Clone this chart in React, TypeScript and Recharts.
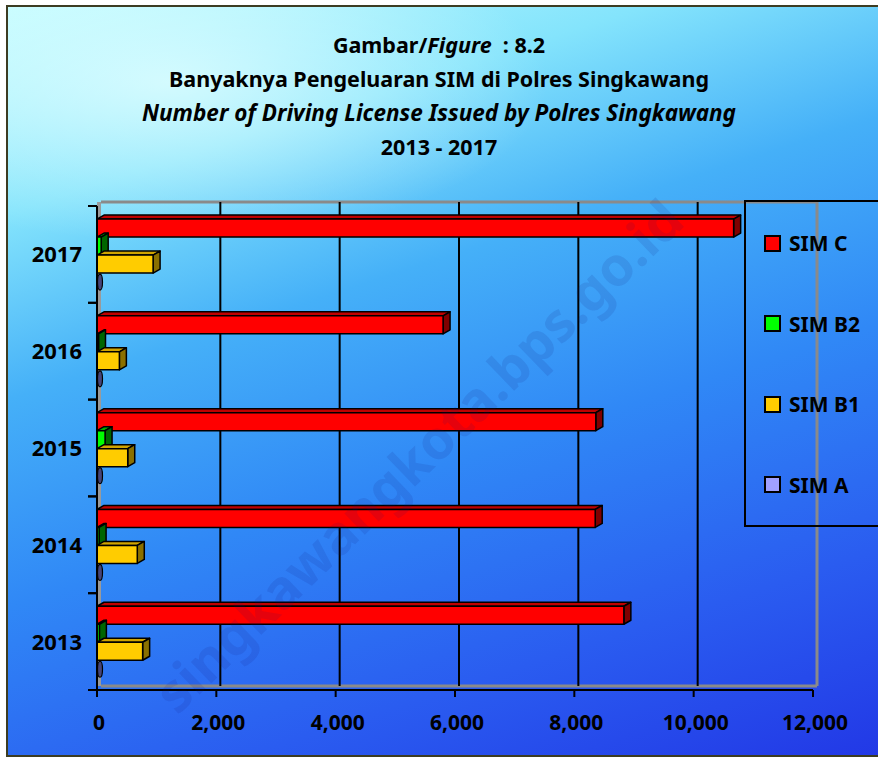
import { BarChart, Bar, XAxis, YAxis, CartesianGrid } from "recharts"

const years = ["2013", "2014", "2015", "2016", "2017"]
const simC = [8830, 8350, 8360, 5800, 10670]
const simB2 = [40, 35, 135, 25, 70]
const simB1 = [765, 675, 515, 375, 940]
const simA = [0, 0, 0, 0, 0]
const xTicks = [0, 2000, 4000, 6000, 8000, 10000, 12000]

const seriesNames = ["SIM C", "SIM B2", "SIM B1", "SIM A"]
const seriesKeys = ["simC", "simB2", "simB1", "simA"]
const seriesColors = ["#ff0000", "#00ff00", "#ffcc00", "#a0a0ff"]

const shades: Record<string, { top: string; side: string }> = {
  "#ff0000": { top: "#c00000", side: "#800000" },
  "#00ff00": { top: "#00b000", side: "#006600" },
  "#ffcc00": { top: "#d0a400", side: "#8a7000" },
  "#a0a0ff": { top: "#505088", side: "#45457a" },
}

const data = years.map((year, i) => ({
  year,
  simC: simC[i],
  simB2: simB2[i],
  simB1: simB1[i],
  simA: simA[i],
}))

const W = 878
const H = 758
const PLOT = { left: 97, top: 206, right: 813, bottom: 690 }
const DX = 7
const DY = 4
const FONT = "'Noto Sans', sans-serif"

function Bar3D(props: any) {
  const { x, y, width, height, fill } = props
  const w = Math.max(0, width || 0)
  const s = shades[fill] || { top: fill, side: fill }
  if (w === 0) {
    // zero-length bar: only its end cap shows
    return (
      <ellipse
        cx={x + 3}
        cy={y + height / 2}
        rx={2.5}
        ry={height / 2 - 1}
        fill={s.side}
        stroke="#000"
        strokeWidth={1.2}
      />
    )
  }
  return (
    <g stroke="#000" strokeWidth={1.5} strokeLinejoin="round">
      <polygon
        points={`${x},${y} ${x + DX},${y - DY} ${x + w + DX},${y - DY} ${x + w},${y}`}
        fill={s.top}
      />
      <polygon
        points={`${x + w},${y} ${x + w + DX},${y - DY} ${x + w + DX},${y + height - DY} ${x + w},${y + height}`}
        fill={s.side}
      />
      <rect x={x} y={y} width={w} height={height} fill={fill} />
    </g>
  )
}

function YTick(props: any) {
  const { x, y, payload } = props
  const half = (PLOT.bottom - PLOT.top) / years.length / 2
  return (
    <g>
      <line x1={PLOT.left - 9} x2={PLOT.left} y1={y - half} y2={y - half} stroke="#000" strokeWidth={2} />
      <line x1={PLOT.left - 9} x2={PLOT.left} y1={y + half} y2={y + half} stroke="#000" strokeWidth={2} />
      <text x={x - 7} y={y + 8} textAnchor="end" fontFamily={FONT} fontWeight={700} fontSize={22} fill="#000">
        {payload.value}
      </text>
    </g>
  )
}

function XTick(props: any) {
  const { x, y, payload } = props
  return (
    <text x={x + 2} y={y + 31} textAnchor="middle" fontFamily={FONT} fontWeight={700} fontSize={21} fill="#000">
      {Number(payload.value).toLocaleString("en-US")}
    </text>
  )
}

function GridLine(props: any) {
  const { x1, y1, y2 } = props
  const x = x1 + 4
  if (Math.abs(x1 - PLOT.left) < 1) {
    return (
      <g>
        <rect x={PLOT.left} y={y1 - DY} width={4} height={y2 - y1} fill="#9a9a9a" />
        <line x1={x} x2={PLOT.right + 4} y1={y1 - DY} y2={y1 - DY} stroke="#8a8a8a" strokeWidth={3} />
        <line x1={x} x2={PLOT.right + 4} y1={y2 - DY} y2={y2 - DY} stroke="#8a8a8a" strokeWidth={3} />
      </g>
    )
  }
  if (Math.abs(x1 - PLOT.right) < 1) {
    return <line x1={x} x2={x} y1={y1 - DY} y2={y2 - DY} stroke="#8a8a8a" strokeWidth={3} />
  }
  return <line x1={x} x2={x} y1={y1 - DY} y2={y2 - DY} stroke="#000" strokeWidth={2} />
}

const titleStyle: React.CSSProperties = {
  position: "absolute",
  left: 0,
  width: W,
  textAlign: "center",
  fontFamily: FONT,
  fontWeight: 700,
  fontSize: 21.5,
  color: "#000",
  lineHeight: "26px",
  whiteSpace: "nowrap",
}

export default function App() {
  return (
    <div style={{ position: "absolute", left: 0, top: 0, width: W, height: H, overflow: "hidden", background: "#fff" }}>
      <div
        style={{
          position: "absolute",
          left: 6,
          top: 5,
          width: W,
          height: 748,
          border: "2px solid #3c3c22",
          background:
            "radial-gradient(ellipse 380px 160px at 160px 75px, rgba(230,255,255,0.75), rgba(230,255,255,0) 100%), linear-gradient(162deg, #c0fcff 0%, #84e4fc 20%, #45b0f8 38%, #3088f6 58%, #2a5cf0 80%, #2238e6 100%)",
        }}
      />
      <div style={{ ...titleStyle, top: 32 }}>
        Gambar/<i>Figure</i>&nbsp; : 8.2
      </div>
      <div style={{ ...titleStyle, top: 66 }}>Banyaknya Pengeluaran SIM di Polres Singkawang</div>
      <div style={{ ...titleStyle, top: 100, fontStyle: "italic", fontSize: 22.5 }}>
        Number of Driving License Issued by Polres Singkawang
      </div>
      <div style={{ ...titleStyle, top: 134 }}>2013 - 2017</div>

      <div style={{ position: "absolute", left: 0, top: 0 }}>
        <BarChart
          width={W}
          height={H}
          data={data}
          layout="vertical"
          margin={{ top: PLOT.top, right: W - PLOT.right, bottom: 0, left: 0 }}
          barCategoryGap="13.5%"
          barGap={0}
        >
          <CartesianGrid horizontal={false} vertical={GridLine} syncWithTicks />
          <XAxis
            type="number"
            domain={[0, 12000]}
            ticks={xTicks}
            height={H - PLOT.bottom}
            axisLine={{ stroke: "#000", strokeWidth: 2 }}
            tickLine={{ stroke: "#000", strokeWidth: 2 }}
            tickSize={7}
            tick={<XTick />}
            interval={0}
          />
          <YAxis
            type="category"
            dataKey="year"
            reversed
            width={PLOT.left}
            axisLine={{ stroke: "#000", strokeWidth: 2 }}
            tickLine={false}
            tick={<YTick />}
            interval={0}
          />
          {seriesKeys.map((k, i) => (
            <Bar key={k} dataKey={k} name={seriesNames[i]} fill={seriesColors[i]} shape={<Bar3D />} isAnimationActive={false} />
          ))}
        </BarChart>
      </div>

      <svg style={{ position: "absolute", left: 0, top: 0, pointerEvents: "none" }} width={W} height={H}>
        <text
          x={432}
          y={470}
          transform="rotate(-44 432 470)"
          textAnchor="middle"
          fontFamily={FONT}
          fontWeight={700}
          fontSize={54}
          fill="rgba(20,20,120,0.11)"
        >
          singkawangkota.bps.go.id
        </text>
      </svg>

      <div
        style={{
          position: "absolute",
          left: 744,
          top: 200,
          width: 150,
          height: 323,
          border: "2px solid #000",
        }}
      >
        {seriesNames.map((n, i) => (
          <div
            key={n}
            style={{ position: "absolute", left: 18, top: 29 + i * 80.5, display: "flex", alignItems: "center" }}
          >
            <span
              style={{
                display: "inline-block",
                width: 13,
                height: 13,
                background: seriesColors[i],
                border: "2px solid #000",
                marginRight: 8,
              }}
            />
            <span style={{ fontFamily: FONT, fontWeight: 700, fontSize: 21, color: "#000", lineHeight: "24px" }}>{n}</span>
          </div>
        ))}
      </div>
    </div>
  )
}
